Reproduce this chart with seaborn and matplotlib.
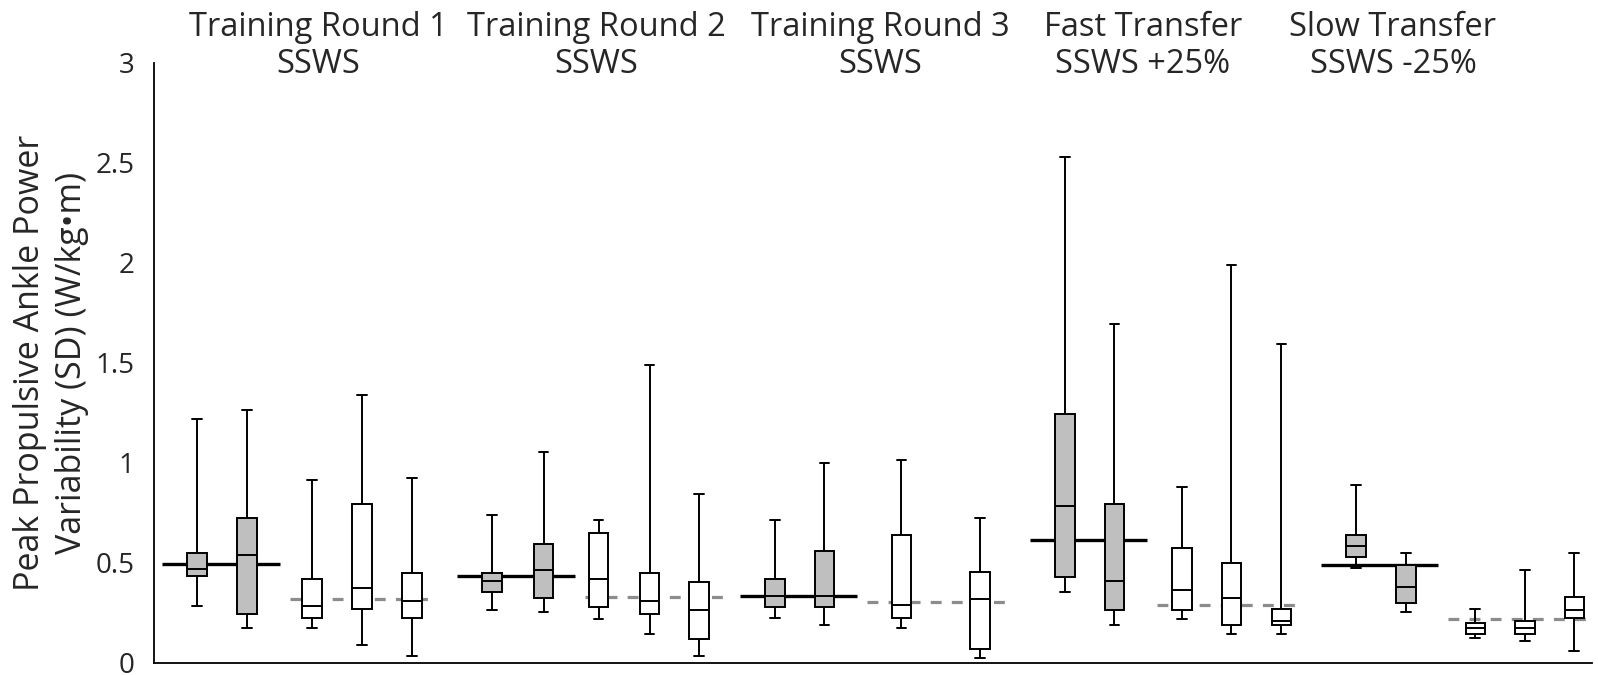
import numpy as np
import pandas as pd
import matplotlib
matplotlib.use("Agg")
import matplotlib.pyplot as plt
import matplotlib.transforms as mtransforms
import seaborn as sns

# ---------------- data ----------------
groups = ["Training Round 1\nSSWS", "Training Round 2\nSSWS", "Training Round 3\nSSWS",
          "Fast Transfer\nSSWS +25%", "Slow Transfer\nSSWS -25%"]

# five-number summaries (min, q1, median, q3, max) per box
g1_gray = [[0.283, 0.437, 0.468, 0.548, 1.218],
           [0.173, 0.245, 0.540, 0.723, 1.265]]
g1_white = [[0.173, 0.227, 0.283, 0.420, 0.915],
            [0.088, 0.272, 0.375, 0.797, 1.338],
            [0.035, 0.227, 0.312, 0.450, 0.923]]
g2_gray = [[0.265, 0.355, 0.410, 0.450, 0.740],
           [0.257, 0.327, 0.467, 0.595, 1.055]]
g2_white = [[0.218, 0.282, 0.420, 0.650, 0.713],
            [0.145, 0.245, 0.312, 0.448, 1.490],
            [0.035, 0.118, 0.265, 0.403, 0.843]]
g3_gray = [[0.227, 0.282, 0.337, 0.420, 0.713],
           [0.190, 0.282, 0.337, 0.558, 0.998]]
g3_white = [[0.173, 0.227, 0.290, 0.640, 1.015],
            [0.025, 0.072, 0.320, 0.457, 0.723]]
g4_gray = [[0.357, 0.428, 0.787, 1.247, 2.532],
           [0.190, 0.263, 0.410, 0.797, 1.697]]
g4_white = [[0.218, 0.263, 0.365, 0.577, 0.878],
            [0.145, 0.190, 0.327, 0.502, 1.990],
            [0.145, 0.190, 0.212, 0.272, 1.595]]
g5_gray = [[0.477, 0.530, 0.587, 0.640, 0.888],
           [0.255, 0.300, 0.382, 0.490, 0.548]]
g5_white = [[0.127, 0.145, 0.173, 0.200, 0.272],
            [0.108, 0.145, 0.173, 0.208, 0.465],
            [0.062, 0.227, 0.265, 0.328, 0.548]]

gray_mean = [0.497, 0.433, 0.335, 0.617, 0.492]
white_mean = [0.320, 0.330, 0.305, 0.290, 0.222]

yticks = [0, 0.5, 1, 1.5, 2, 2.5, 3]
ytick_labels = ["0", "0.5", "1", "1.5", "2", "2.5", "3"]
ylabel = "Peak Propulsive Ankle Power\nVariability (SD) (W/kg\u2022m)"

# ---------------- layout ----------------
group_start = [0.0, 5.9, 11.56, 17.36, 23.18]
gray_offsets = [[0, 1], [0, 1.03], [0, 0.99], [0, 0.99], [0, 1.0]]
white_offsets = [[2.3, 3.3, 4.3], [2.13, 3.15, 4.14], [2.53, 4.1],
                 [2.34, 3.33, 4.33], [2.39, 3.38, 4.37]]
title_x = [2.42, 7.98, 13.66, 18.92, 23.92]

all_gray = [g1_gray, g2_gray, g3_gray, g4_gray, g5_gray]
all_white = [g1_white, g2_white, g3_white, g4_white, g5_white]

rows = []
for gi in range(5):
    for off, vals in zip(gray_offsets[gi], all_gray[gi]):
        for v in vals:
            rows.append({"pos": round(group_start[gi] + off, 3), "value": v, "kind": "gray"})
    for off, vals in zip(white_offsets[gi], all_white[gi]):
        for v in vals:
            rows.append({"pos": round(group_start[gi] + off, 3), "value": v, "kind": "white"})
df = pd.DataFrame(rows)

# ---------------- plot ----------------
sns.set_style("white")
plt.rcParams["font.family"] = ["Open Sans", "DejaVu Sans"]

fig = plt.figure(figsize=(15.98, 6.75), dpi=100)
ax = fig.add_axes([0.0964, 0.0178, 0.8998, 0.8889])

# mean reference lines (behind boxes)
for gi in range(5):
    s = group_start[gi]
    ax.plot([s - 0.7, s + 1.65], [gray_mean[gi]] * 2, color="black", lw=2.4,
            solid_capstyle="butt", zorder=1)
    ax.plot([s + 1.85, s + 4.62], [white_mean[gi]] * 2, color="#8c8c8c", lw=2.3,
            dashes=(3.4, 3.2), dash_capstyle="butt", zorder=1)

sns.boxplot(data=df, x="pos", y="value", hue="kind", native_scale=True,
            palette={"gray": "#bfbfbf", "white": "white"}, dodge=False,
            width=0.4, whis=(0, 100), linecolor="black", linewidth=1.4,
            legend=False, ax=ax, zorder=3)

ax.set_xlim(-0.86, 27.9)
ax.set_ylim(0, 3)
ax.set_xticks([])
ax.set_yticks(yticks)
ax.set_yticklabels(ytick_labels, fontsize=20)
ax.tick_params(axis="y", length=0, pad=14)
ax.set_xlabel("")
ax.set_ylabel(ylabel, fontsize=24.5, linespacing=1.3)
ax.yaxis.label.set_va("center")
ax.yaxis.set_label_coords(-0.0715, 0.5)
for side in ["top", "right"]:
    ax.spines[side].set_visible(False)
for side in ["left", "bottom"]:
    ax.spines[side].set_color("black")
    ax.spines[side].set_linewidth(1.3)

trans = mtransforms.blended_transform_factory(ax.transData, fig.transFigure)
for tx, name in zip(title_x, groups):
    ax.text(tx, 1 - 46 / 675, name, transform=trans, ha="center", va="center",
            fontsize=23.5, linespacing=1.15, clip_on=False)

fig.savefig("out.png", dpi=100)
